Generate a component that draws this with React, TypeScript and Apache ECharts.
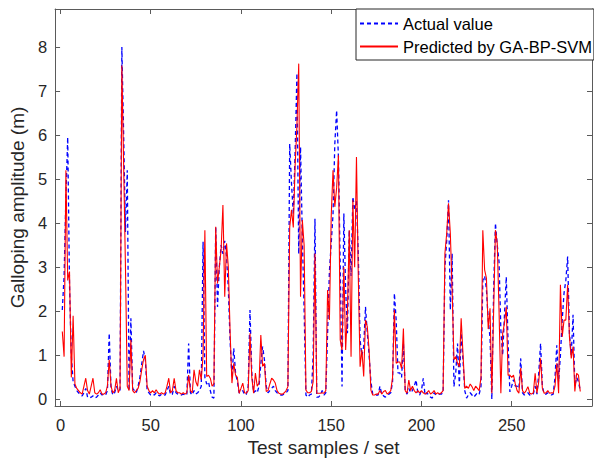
import React, { useEffect, useRef } from "react";
import * as echarts from "echarts";

const xTicks = [0, 50, 100, 150, 200, 250];
const yTicks = [0, 1, 2, 3, 4, 5, 6, 7, 8];

// Actual value (blue dashed), samples 1..288
const actual = [
  2.03, 2.8, 4.6, 5.95, 2.6, 1.0, 0.4, 0.3, 0.2, 0.15,
  0.1, 0.08, 0.15, 0.25, 0.05, 0.03, 0.05, 0.08, 0.03, 0.05,
  0.1, 0.15, 0.1, 0.12, 0.1, 0.2, 1.5, 0.25, 0.1, 0.15,
  0.3, 0.2, 0.2, 8.0, 6.0, 3.8, 5.2, 0.2, 1.84, 0.25,
  0.2, 0.15, 0.3, 0.5, 0.8, 1.1, 0.9, 0.2, 0.15, 0.1,
  0.12, 0.1, 0.15, 0.1, 0.08, 0.12, 0.1, 0.1, 0.2, 0.3,
  0.1, 0.12, 0.3, 0.15, 0.12, 0.1, 0.1, 0.12, 0.1, 0.1,
  1.27, 0.15, 0.1, 0.2, 0.12, 0.15, 0.2, 0.3, 3.58, 0.5,
  0.35, 0.4, 0.2, 0.05, 0.03, 3.92, 2.1, 3.0, 3.5, 3.3,
  3.6, 3.24, 2.5, 1.3, 0.5, 1.16, 0.6, 0.4, 0.15, 0.15,
  0.2, 0.1, 0.12, 0.3, 2.03, 0.6, 0.15, 0.2, 0.15, 0.3,
  0.8, 1.2, 0.9, 0.3, 0.15, 0.2, 0.25, 0.3, 0.2, 0.15,
  0.12, 0.1, 0.1, 0.12, 0.15, 0.2, 5.8, 4.9, 4.2, 5.6,
  7.4, 3.3, 5.73, 3.7, 2.0, 0.1, 0.05, 0.1, 0.12, 1.0,
  4.1, 0.05, 0.05, 0.1, 0.2, 0.1, 0.15, 1.5, 2.9, 3.54,
  4.2, 5.8, 6.56, 5.5, 3.0, 0.29, 4.22, 2.5, 1.5, 3.84,
  2.8, 4.6, 4.3, 4.5, 3.31, 1.35, 1.0, 1.2, 2.1, 1.5,
  1.0, 0.4, 0.12, 0.1, 0.1, 0.1, 0.3, 0.12, 0.08, 0.05,
  0.1, 0.12, 0.15, 0.4, 2.41, 1.8, 0.6, 0.6, 0.5, 1.27,
  0.2, 0.12, 0.25, 0.15, 0.2, 0.3, 0.44, 0.15, 0.1, 0.2,
  0.48, 0.1, 0.15, 0.1, 0.05, 0.03, 0.15, 0.1, 0.1, 0.12,
  0.12, 0.15, 3.0, 3.6, 4.52, 2.03, 3.31, 0.29, 0.6, 1.27,
  0.3, 1.5, 0.9, 0.2, 0.03, 0.1, 0.15, 0.1, 0.05, 0.1,
  0.15, 0.12, 0.3, 2.7, 2.8, 2.5, 1.8, 1.4, 0.0, 2.5,
  4.0, 3.5, 3.12, 1.58, 1.0, 1.92, 2.78, 1.3, 0.17, 0.3,
  0.45, 0.3, 0.3, 0.25, 0.93, 0.15, 0.1, 0.12, 0.15, 0.1,
  0.1, 0.12, 0.3, 0.12, 0.6, 1.27, 0.3, 0.12, 0.12, 0.15,
  0.12, 0.1, 0.12, 0.5, 1.23, 0.4, 1.0, 1.8, 2.41, 2.7,
  3.24, 1.5, 1.0, 1.92, 0.3, 0.5, 0.4, 0.2,
];

// Predicted by GA-BP-SVM (red solid), samples 1..288
const predicted = [
  1.54, 0.97, 5.2, 2.7, 2.9, 0.5, 1.9, 0.35, 0.25, 0.2,
  0.15, 0.12, 0.3, 0.48, 0.2, 0.12, 0.3, 0.48, 0.15, 0.12,
  0.15, 0.22, 0.12, 0.12, 0.15, 0.3, 0.9, 0.3, 0.15, 0.2,
  0.48, 0.15, 0.25, 7.58, 5.3, 3.0, 0.3, 0.2, 1.35, 0.2,
  0.15, 0.2, 0.25, 0.4, 0.67, 0.9, 1.0, 0.3, 0.2, 0.15,
  0.2, 0.15, 0.22, 0.15, 0.12, 0.15, 0.12, 0.15, 0.3, 0.48,
  0.15, 0.2, 0.48, 0.2, 0.15, 0.15, 0.12, 0.15, 0.12, 0.15,
  0.55, 0.2, 0.15, 0.67, 0.4, 0.3, 0.67, 0.45, 1.0, 3.84,
  0.52, 0.55, 0.48, 0.3, 0.35, 3.92, 2.63, 3.0, 3.4, 4.41,
  2.33, 3.54, 3.0, 1.5, 0.37, 0.82, 0.55, 0.5, 0.14, 0.25,
  0.37, 0.15, 0.14, 0.2, 1.5, 0.5, 0.14, 0.6, 0.3, 0.37,
  1.46, 0.75, 0.82, 0.18, 0.2, 0.35, 0.48, 0.44, 0.37, 0.2,
  0.14, 0.12, 0.12, 0.15, 0.2, 0.29, 3.9, 4.3, 3.9, 5.3,
  6.2, 7.62, 2.33, 4.07, 3.5, 0.21, 0.15, 0.15, 0.18, 0.4,
  3.31, 0.14, 0.14, 0.14, 0.15, 0.14, 0.2, 2.48, 1.8, 4.15,
  5.2, 4.37, 4.8, 5.54, 1.35, 1.12, 3.0, 1.12, 2.0, 3.84,
  0.97, 4.52, 3.0, 5.5, 2.8, 0.74, 1.12, 0.52, 1.8, 1.65,
  1.12, 0.21, 0.1, 0.1, 0.12, 0.12, 0.2, 0.12, 0.18, 0.2,
  0.12, 0.15, 0.2, 0.5, 2.03, 0.82, 0.85, 0.85, 0.7, 1.61,
  0.2, 0.14, 0.44, 0.2, 0.3, 0.2, 0.15, 0.2, 0.15, 0.2,
  0.15, 0.12, 0.15, 0.2, 0.12, 0.15, 0.2, 0.12, 0.15, 0.12,
  0.15, 0.2, 3.31, 3.77, 4.45, 3.77, 2.48, 0.9, 0.97, 0.82,
  0.74, 1.84, 1.05, 0.25, 0.3, 0.25, 0.35, 0.29, 0.2, 0.3,
  0.25, 0.2, 0.5, 3.84, 2.94, 2.75, 1.6, 2.07, 0.14, 2.0,
  3.84, 3.54, 2.0, 0.14, 1.5, 1.73, 2.1, 0.55, 0.55, 0.5,
  0.55, 0.35, 0.2, 0.14, 0.71, 0.2, 0.14, 0.2, 0.29, 0.14,
  0.12, 0.15, 0.59, 0.14, 0.4, 0.93, 0.25, 0.14, 0.15, 0.2,
  0.14, 0.15, 0.14, 0.3, 0.82, 0.14, 2.6, 1.42, 1.8, 1.8,
  2.6, 1.42, 0.93, 1.2, 0.18, 0.59, 0.55, 0.18,
];

const FONT = "'Liberation Sans', Arial, Helvetica, sans-serif";
const AXIS_COLOR = "#5a5a5a";
const LABEL_COLOR = "#262626";

export default function App() {
  const ref = useRef<HTMLDivElement>(null);

  useEffect(() => {
    if (!ref.current) return;
    const chart = echarts.init(ref.current, null, { renderer: "svg" });

    const axisLine = { show: true, onZero: false, lineStyle: { color: AXIS_COLOR, width: 1 } };
    const xMin = -3;
    const xMax = 294.5;
    const yMin = -0.15;
    const yMax = 8.86;

    chart.setOption({
      animation: false,
      backgroundColor: "#ffffff",
      textStyle: { fontFamily: FONT },
      grid: { left: 49, right: 2, top: 9, bottom: 57, containLabel: false },
      legend: {
        orient: "vertical",
        left: 356,
        top: 9,
        padding: [6, 2, 5, 3],
        itemWidth: 38,
        itemHeight: 14,
        itemGap: 6,
        borderColor: "#262626",
        borderWidth: 1,
        backgroundColor: "#ffffff",
        borderRadius: 0,
        itemStyle: { opacity: 0 },
        textStyle: { fontSize: 16.5, color: "#000000", fontFamily: FONT },
        data: ["Actual value", "Predicted by GA-BP-SVM"],
      },
      xAxis: [
        {
          type: "value",
          position: "bottom",
          min: xMin,
          max: xMax,
          axisLine,
          axisTick: { show: true, inside: true, length: 5, customValues: xTicks, lineStyle: { color: AXIS_COLOR } },
          axisLabel: { customValues: xTicks, fontSize: 16.5, color: LABEL_COLOR, margin: 10, fontFamily: FONT },
          splitLine: { show: false },
          name: "Test samples / set",
          nameLocation: "middle",
          nameGap: 31,
          nameTextStyle: { fontSize: 19, color: LABEL_COLOR, fontFamily: FONT },
        },
        {
          type: "value",
          position: "top",
          min: xMin,
          max: xMax,
          axisLine,
          axisTick: { show: true, inside: true, length: 5, customValues: xTicks, lineStyle: { color: AXIS_COLOR } },
          axisLabel: { show: false },
          splitLine: { show: false },
        },
      ],
      yAxis: [
        {
          type: "value",
          position: "left",
          min: yMin,
          max: yMax,
          axisLine,
          axisTick: { show: true, inside: true, length: 5, customValues: yTicks, lineStyle: { color: AXIS_COLOR } },
          axisLabel: { customValues: yTicks, fontSize: 16.5, color: LABEL_COLOR, margin: 8, fontFamily: FONT },
          splitLine: { show: false },
          name: "Galloping amplitude (m)",
          nameLocation: "middle",
          nameGap: 22,
          nameTextStyle: { fontSize: 19, color: LABEL_COLOR, fontFamily: FONT },
        },
        {
          type: "value",
          position: "right",
          min: yMin,
          max: yMax,
          axisLine,
          axisTick: { show: true, inside: true, length: 5, customValues: yTicks, lineStyle: { color: AXIS_COLOR } },
          axisLabel: { show: false },
          splitLine: { show: false },
        },
      ],
      series: [
        {
          name: "Actual value",
          type: "line",
          xAxisIndex: 0,
          yAxisIndex: 0,
          symbol: "none",
          data: actual.map((v, k) => [k + 1, v]),
          lineStyle: { color: "#0000ff", width: 1.3, type: [4, 3] },
          itemStyle: { color: "#0000ff" },
          z: 2,
        },
        {
          name: "Predicted by GA-BP-SVM",
          type: "line",
          xAxisIndex: 0,
          yAxisIndex: 0,
          symbol: "none",
          data: predicted.map((v, k) => [k + 1, v]),
          lineStyle: { color: "#ff0000", width: 1.1, type: "solid" },
          itemStyle: { color: "#ff0000" },
          z: 3,
        },
      ],
    });

    return () => chart.dispose();
  }, []);

  return (
    <div
      ref={ref}
      style={{ position: "absolute", left: 0, top: 0, width: 594, height: 463, background: "#fff" }}
    />
  );
}
